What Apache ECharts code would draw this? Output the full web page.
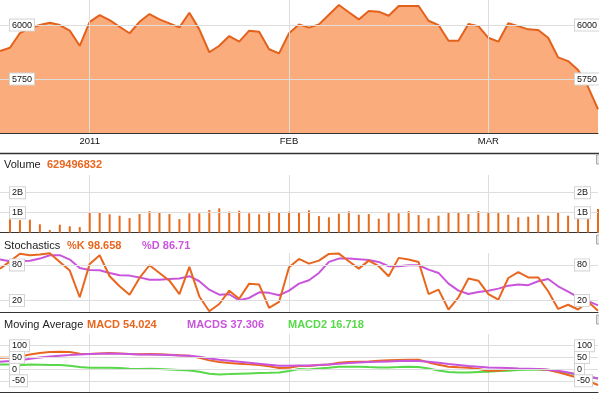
<!DOCTYPE html>
<html><head><meta charset="utf-8">
<script src="https://cdn.jsdelivr.net/npm/echarts@6/dist/echarts.min.js"></script>
<style>html,body{margin:0;padding:0;background:#fff}#c{width:599px;height:395px}</style>
</head><body><div id="c"></div>
<script>
const dates = ['2010-12-17','2010-12-20','2010-12-21','2010-12-22','2010-12-23','2010-12-24','2010-12-29','2010-12-30','2010-12-31',
'2011-01-04','2011-01-05','2011-01-06','2011-01-07','2011-01-10','2011-01-11','2011-01-12','2011-01-13','2011-01-14','2011-01-17','2011-01-18','2011-01-19','2011-01-20','2011-01-21','2011-01-24','2011-01-25','2011-01-26','2011-01-27','2011-01-28','2011-01-31',
'2011-02-01','2011-02-02','2011-02-03','2011-02-04','2011-02-07','2011-02-08','2011-02-09','2011-02-10','2011-02-11','2011-02-14','2011-02-15','2011-02-16','2011-02-17','2011-02-18','2011-02-21','2011-02-22','2011-02-23','2011-02-24','2011-02-25','2011-02-28',
'2011-03-01','2011-03-02','2011-03-03','2011-03-04','2011-03-07','2011-03-08','2011-03-09','2011-03-10','2011-03-11','2011-03-14','2011-03-15','2011-03-16'];
const tickIdx = [9, 29, 49];
const tickLabels = ['2011', 'FEB', 'MAR'];

const price = [5880,5895,5963,5986,6000,6011,6000,5974,5904,6015,
6046,6023,5992,5962,6015,6051,6026,6008,5989,6057,
5980,5874,5904,5949,5923,5974,5969,5888,5869,5962,
6003,5988,6003,6048,6093,6059,6026,6065,6062,6043,
6088,6088,6088,6020,6000,5927,5927,6005,5995,5941,
5923,6008,5995,5980,5977,5941,5850,5833,5792,5714,5610];

const volume = [null,0.67,0.63,0.65,0.42,0.13,0.4,0.32,0.28,1.03,
1.03,0.92,0.85,0.73,0.93,1.08,1.0,0.93,0.68,0.97,
0.97,1.13,1.22,1.05,1.1,0.97,0.92,1.05,1.02,1.05,
1.03,1.12,0.83,0.77,0.95,1.07,0.9,0.93,0.7,0.98,
0.97,1.08,0.88,0.72,0.85,1.0,1.03,0.93,1.08,1.0,
0.98,0.9,0.77,0.8,0.9,0.85,1.03,0.85,0.7,0.72,1.18];

const stochK = [73.7,86,98.66,96.3,97.3,99.7,85,70.4,25.6,81.7,
96.3,61,44,30,58,79.4,66.5,53.5,31,76.6,
27,2,14.3,36.7,23.2,48.5,46.9,7.6,17.7,76,
90,82.2,87.2,98.5,99,86.2,73.7,87.2,77.8,61,
91.8,89,85,31,38.4,5,25.6,57,53.5,31,
21.5,58,68,59,59,35.7,6,13,5,18,3];

const stochD = [88.9,86,86.7,87,90.6,96.3,96.3,88.9,74.9,71.5,
71,66.5,62.6,62,59,55.2,55.2,56.4,57,61,
52.5,38.4,30,30.7,20.5,24.4,34,33,29,36.7,
48.5,54.2,66.5,85,90.6,90.6,89.5,88.4,85,77.8,
77.8,79.4,79.4,72,66.5,48.5,36.7,31,34.5,36.7,
40.1,45.1,46.9,46,52.5,56.4,44,35,26,19,12];

const macd = [48,50,54.02,62.7,68.4,72.6,74,72.6,65.8,64.4,
67.2,68.4,67.2,64.4,63,64.4,63,61.5,58.7,57.3,
48.7,37.3,30.2,25.9,23,20.2,17.4,11.7,4.6,6,
13,13,17.4,20,27,30,31.6,33,35.9,37.3,
38.7,40,40,28.6,18.8,10.2,7.4,6,0.3,-6.8,
-6.8,-1.1,0.3,0.3,0.3,-4,-14,-25,-37,-51,-68];

const macds = [31.3,34.2,37.3,44.2,49.9,54.1,57,59.8,62.7,64.1,
65.5,66.9,65.5,64.1,62.7,62.7,61.3,59.8,58.4,57,
52.7,45.6,39.9,35.6,31.3,27.1,22.8,18.5,14.2,14.2,
15.7,15.7,17.1,20,22.8,25.6,28.5,29.9,31.3,32.8,
34.2,35.6,34.2,31.3,27.1,21.4,17.1,12.8,10,7.1,
5.7,4.3,2.8,1.4,0,-2.8,-7.1,-14.2,-22.8,-31.3,-39.9];

const macd2 = [19.9,19.9,16.7,19.9,18.5,17.1,17.1,14.2,8.5,5.7,
5.7,5.7,4.3,1.4,0,1.4,0,-1.4,-4.3,-5.7,
-11.4,-19.9,-22.8,-21.4,-19.9,-18.5,-17.1,-15.7,-14.2,-8.5,
0,-1.4,2.8,5.7,10,10,10,8.5,7.1,7.1,
8.5,10,8.5,2.8,-5.7,-12.8,-14.2,-14.2,-12.8,-11.4,
-8.5,-7.1,-4.3,-2.8,-1.4,-2.8,-10,-17.1,-24.2,-31.3,-39.9];

const priceTicks = [5750, 6000];
const volTicks = [1, 2];
const stochTicks = [20, 80];
const macdTicksA = [0, 100];
const macdTicksB = [-50, 50];

const FONT = '"Liberation Sans", Arial, sans-serif';
const ORANGE = '#e8661e', PURPLE = '#c955dc', GREEN = '#58d84a';
const GRID_C = '#dedede';

const grids = [
  {left: 0, width: 598, top: 0, height: 133, outerBoundsMode: 'none', containLabel: false},
  {left: 0, width: 598, top: 175, height: 57.7, outerBoundsMode: 'none', containLabel: false},
  {left: 0, width: 598, top: 253, height: 59.5, outerBoundsMode: 'none', containLabel: false},
  {left: 0, width: 598, top: 334, height: 58.5, outerBoundsMode: 'none', containLabel: false}
];

function xAx(i) {
  return {
    type: 'category', gridIndex: i, data: dates, boundaryGap: false, z: i === 0 ? 6 : 0,
    axisLine: {show: true, onZero: false, lineStyle: {color: '#333', width: 1}},
    axisTick: {show: false},
    axisLabel: {
      show: i === 0, interval: (idx) => tickIdx.includes(idx), margin: 3,
      fontSize: 9.5, fontFamily: FONT, color: '#111', hideOverlap: false,
      formatter: (v, idx) => { const k = tickIdx.indexOf(idx); return k >= 0 ? tickLabels[k] : ''; }
    },
    splitLine: {show: true, interval: (idx) => tickIdx.includes(idx), lineStyle: {color: GRID_C, width: 1}}
  };
}
const boxLabel = {
  inside: true, fontSize: 9, fontFamily: FONT, color: '#111', align: 'left',
  backgroundColor: '#fff', borderColor: '#d4d4d4', borderWidth: 1,
  padding: [1, 2, 1, 2], lineHeight: 9, hideOverlap: false
};
function yAxPair(i, min, max, ticks, fmt) {
  const base = {type: 'value', gridIndex: i, min: min, max: max, axisLine: {show: false}, z: 8};
  return [
    Object.assign({}, base, {
      position: 'left',
      axisTick: {show: false, customValues: ticks},
      splitLine: {show: true, lineStyle: {color: GRID_C, width: 1}},
      axisLabel: Object.assign({}, boxLabel, {margin: 10, customValues: ticks, formatter: fmt})
    }),
    Object.assign({}, base, {
      position: 'right',
      axisTick: {show: false, customValues: ticks},
      splitLine: {show: false},
      axisLabel: Object.assign({}, boxLabel, {margin: 23, customValues: ticks, formatter: fmt})
    })
  ];
}

const yAxes = [].concat(
  yAxPair(0, 5500, 6116, priceTicks, v => String(v)),
  yAxPair(1, 0, 2.885, volTicks, v => v + 'B'),
  yAxPair(2, 0, 100, stochTicks, v => String(v)),
  yAxPair(3, -100, 150, macdTicksA, v => String(v)),
  yAxPair(3, -100, 150, macdTicksB, v => String(v))
);

function lineS(xi, yi, data, color, z) {
  return {type: 'line', xAxisIndex: xi, yAxisIndex: yi, data: data, symbol: 'none',
    lineStyle: {color: color, width: 2}, itemStyle: {color: color}, z: z};
}

function txt(x, y, s, color, bold) {
  return {type: 'text', x: x, y: y, silent: true, z: 20,
    style: {text: s, fill: color, font: (bold ? 'bold ' : '') + '11px ' + FONT, textVerticalAlign: 'middle'}};
}
function handle(y) {
  return {type: 'rect', shape: {x: 596.5, y: y, width: 4, height: 9}, z: 20,
    style: {fill: '#e4e4e4', stroke: '#a8a8a8', lineWidth: 1}, silent: true};
}

const chart = echarts.init(document.getElementById('c'), null, {renderer: 'canvas'});
chart.setOption({
  animation: false,
  backgroundColor: '#fff',
  grid: grids,
  xAxis: [xAx(0), xAx(1), xAx(2), xAx(3)],
  yAxis: yAxes,
  series: [
    Object.assign(lineS(0, 0, price, '#e4611b', 3), {areaStyle: {color: '#fbac7c', opacity: 1}}),
    {type: 'bar', xAxisIndex: 1, yAxisIndex: 2, data: volume, barWidth: 2, itemStyle: {color: '#e56a1c'}},
    lineS(2, 4, stochD, PURPLE, 3),
    lineS(2, 4, stochK, ORANGE, 4),
    lineS(3, 6, macd2, GREEN, 3),
    lineS(3, 6, macd, ORANGE, 4),
    lineS(3, 6, macds, PURPLE, 5)
  ],
  graphic: [
    {type: 'line', shape: {x1: 0, y1: 153.5, x2: 599, y2: 153.5}, style: {stroke: '#333', lineWidth: 1.5}, silent: true, z: 20},
    txt(4, 164.5, 'Volume', '#222', false),
    txt(47, 164.5, '629496832', ORANGE, true),
    txt(4, 245.5, 'Stochastics', '#222', false),
    txt(67, 245.5, '%K 98.658', ORANGE, true),
    txt(142, 245.5, '%D 86.71', PURPLE, true),
    txt(4, 325, 'Moving Average', '#222', false),
    txt(87, 325, 'MACD 54.024', ORANGE, true),
    txt(187, 325, 'MACDS 37.306', PURPLE, true),
    txt(288, 325, 'MACD2 16.718', GREEN, true),
    handle(155), handle(235), handle(315)
  ]
});
</script></body></html>
